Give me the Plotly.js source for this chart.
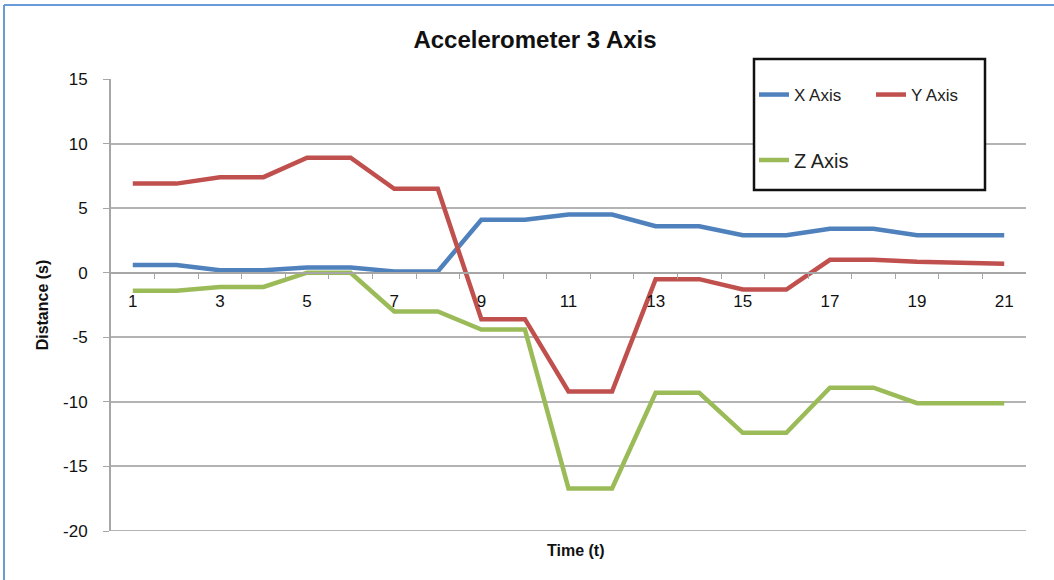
<!DOCTYPE html>
<html>
<head>
<meta charset="utf-8">
<script src="https://cdn.plot.ly/plotly-3.0.1.min.js"></script>
<style>
  html, body { margin: 0; padding: 0; background: #fff; }
  #chart { width: 1054px; height: 580px; }
</style>
</head>
<body>
<div id="chart"></div>
<script>
// Data
var timeSteps = [1,2,3,4,5,6,7,8,9,10,11,12,13,14,15,16,17,18,19,20,21];
var xAxisValues = [0.6,0.6,0.2,0.2,0.4,0.4,0.1,0.1,4.1,4.1,4.5,4.5,3.6,3.6,2.9,2.9,3.4,3.4,2.9,2.9,2.9];
var yAxisValues = [6.9,6.9,7.4,7.4,8.9,8.9,6.5,6.5,-3.6,-3.6,-9.2,-9.2,-0.5,-0.5,-1.3,-1.3,1.0,1.0,0.85,0.8,0.7];
var zAxisValues = [-1.4,-1.4,-1.1,-1.1,0.0,0.0,-3.0,-3.0,-4.4,-4.4,-16.7,-16.7,-9.3,-9.3,-12.4,-12.4,-8.9,-8.9,-10.1,-10.1,-10.1];
var xTickLabels = [1,3,5,7,9,11,13,15,17,19,21];
var yTickValues = [-20,-15,-10,-5,0,5,10,15];
var yTickLabels = ['-20','-15','-10','-5','0','5','10','15'];
var seriesNames = ['X Axis', 'Y Axis', 'Z Axis'];

var boundaries = [];
for (var i = 0; i < timeSteps.length - 1; i++) boundaries.push(timeSteps[i] + 0.5);

var FONT = 'Liberation Sans, Arial, sans-serif';

var traces = [
  {x: timeSteps, y: xAxisValues, name: seriesNames[0], type: 'scatter', mode: 'lines',
   line: {color: '#4F81BD', width: 4.5}, legend: 'legend'},
  {x: timeSteps, y: yAxisValues, name: seriesNames[1], type: 'scatter', mode: 'lines',
   line: {color: '#C0504D', width: 4.5}, legend: 'legend'},
  {x: timeSteps, y: zAxisValues, name: seriesNames[2], type: 'scatter', mode: 'lines',
   line: {color: '#9BBB59', width: 4.5}, legend: 'legend2'}
];

var L = 111, R = 28, T = 79, B = 49, W = 1054, H = 580;
var pw = W - L - R, ph = H - T - B;
function px(x) { return (x - L) / pw; }
function py(y) { return (H - B - y) / ph; }

var layout = {
  width: W, height: H,
  margin: {l: L, r: R, t: T, b: B},
  paper_bgcolor: '#ffffff',
  plot_bgcolor: '#ffffff',
  font: {family: FONT, color: '#222'},
  title: {text: '<b>Accelerometer 3 Axis</b>', font: {size: 24, color: '#111', family: FONT},
          x: 535 / W, xref: 'container', xanchor: 'center', y: 1 - 40 / H, yanchor: 'middle'},
  xaxis: {
    range: [0.5, 21.5],
    anchor: 'free', position: 20 / 35,
    tickmode: 'array', tickvals: xTickLabels, ticktext: xTickLabels.map(String),
    ticks: '', showgrid: false, zeroline: false,
    showline: true, linecolor: '#a6a6a6', linewidth: 2,
    tickfont: {size: 17, color: '#111'},
    ticklabelstandoff: 13,
    minor: {tickvals: boundaries, ticks: 'outside', ticklen: 5, tickcolor: '#a6a6a6', tickwidth: 1, showgrid: false},
    title: {text: ''}
  },
  yaxis: {
    range: [-20, 15], tickmode: 'array', tickvals: yTickValues, ticktext: yTickLabels,
    showgrid: true, gridcolor: '#b3b3b3', gridwidth: 2,
    zeroline: false,
    showline: true, linecolor: '#a6a6a6', linewidth: 2,
    ticks: 'outside', ticklen: 6, tickcolor: '#a6a6a6',
    tickfont: {size: 17, color: '#111'},
    ticklabelstandoff: 12,
    title: {text: '<b>Distance (s)</b>', font: {size: 16, color: '#111'}, standoff: 10}
  },
  annotations: [
    {text: '<b>Time (t)</b>', xref: 'paper', yref: 'paper', x: px(575), y: py(550),
     xanchor: 'center', yanchor: 'middle', showarrow: false, font: {size: 16, color: '#111'}}
  ],
  shapes: [
    {type: 'line', xref: 'paper', yref: 'y', x0: 0, x1: 1, y0: yTickValues[0], y1: yTickValues[0],
     line: {color: '#b3b3b3', width: 2}, layer: 'below'},
    {type: 'rect', xref: 'paper', yref: 'paper', x0: px(754), x1: px(985), y0: py(190), y1: py(59),
     line: {color: '#111', width: 2.5}, fillcolor: '#ffffff', layer: 'above'},
    {type: 'line', xref: 'paper', yref: 'paper', x0: px(4), x1: px(1054), y0: py(5), y1: py(5),
     line: {color: '#6a9ad8', width: 2}},
    {type: 'line', xref: 'paper', yref: 'paper', x0: px(4), x1: px(4), y0: py(5), y1: py(580),
     line: {color: '#6a9ad8', width: 2}}
  ],
  legend: {
    orientation: 'h', x: px(754), y: py(95), xanchor: 'left', yanchor: 'middle',
    bgcolor: 'rgba(0,0,0,0)', borderwidth: 0,
    font: {size: 17, color: '#222'}, itemwidth: 30,
    entrywidth: 72, entrywidthmode: 'pixels'
  },
  legend2: {
    orientation: 'h', x: px(754), y: py(160), xanchor: 'left', yanchor: 'middle',
    bgcolor: 'rgba(0,0,0,0)', borderwidth: 0,
    font: {size: 20, color: '#222'}, itemwidth: 30
  },
  showlegend: true
};

Plotly.newPlot('chart', traces, layout, {displayModeBar: false, staticPlot: true});
</script>
</body>
</html>
